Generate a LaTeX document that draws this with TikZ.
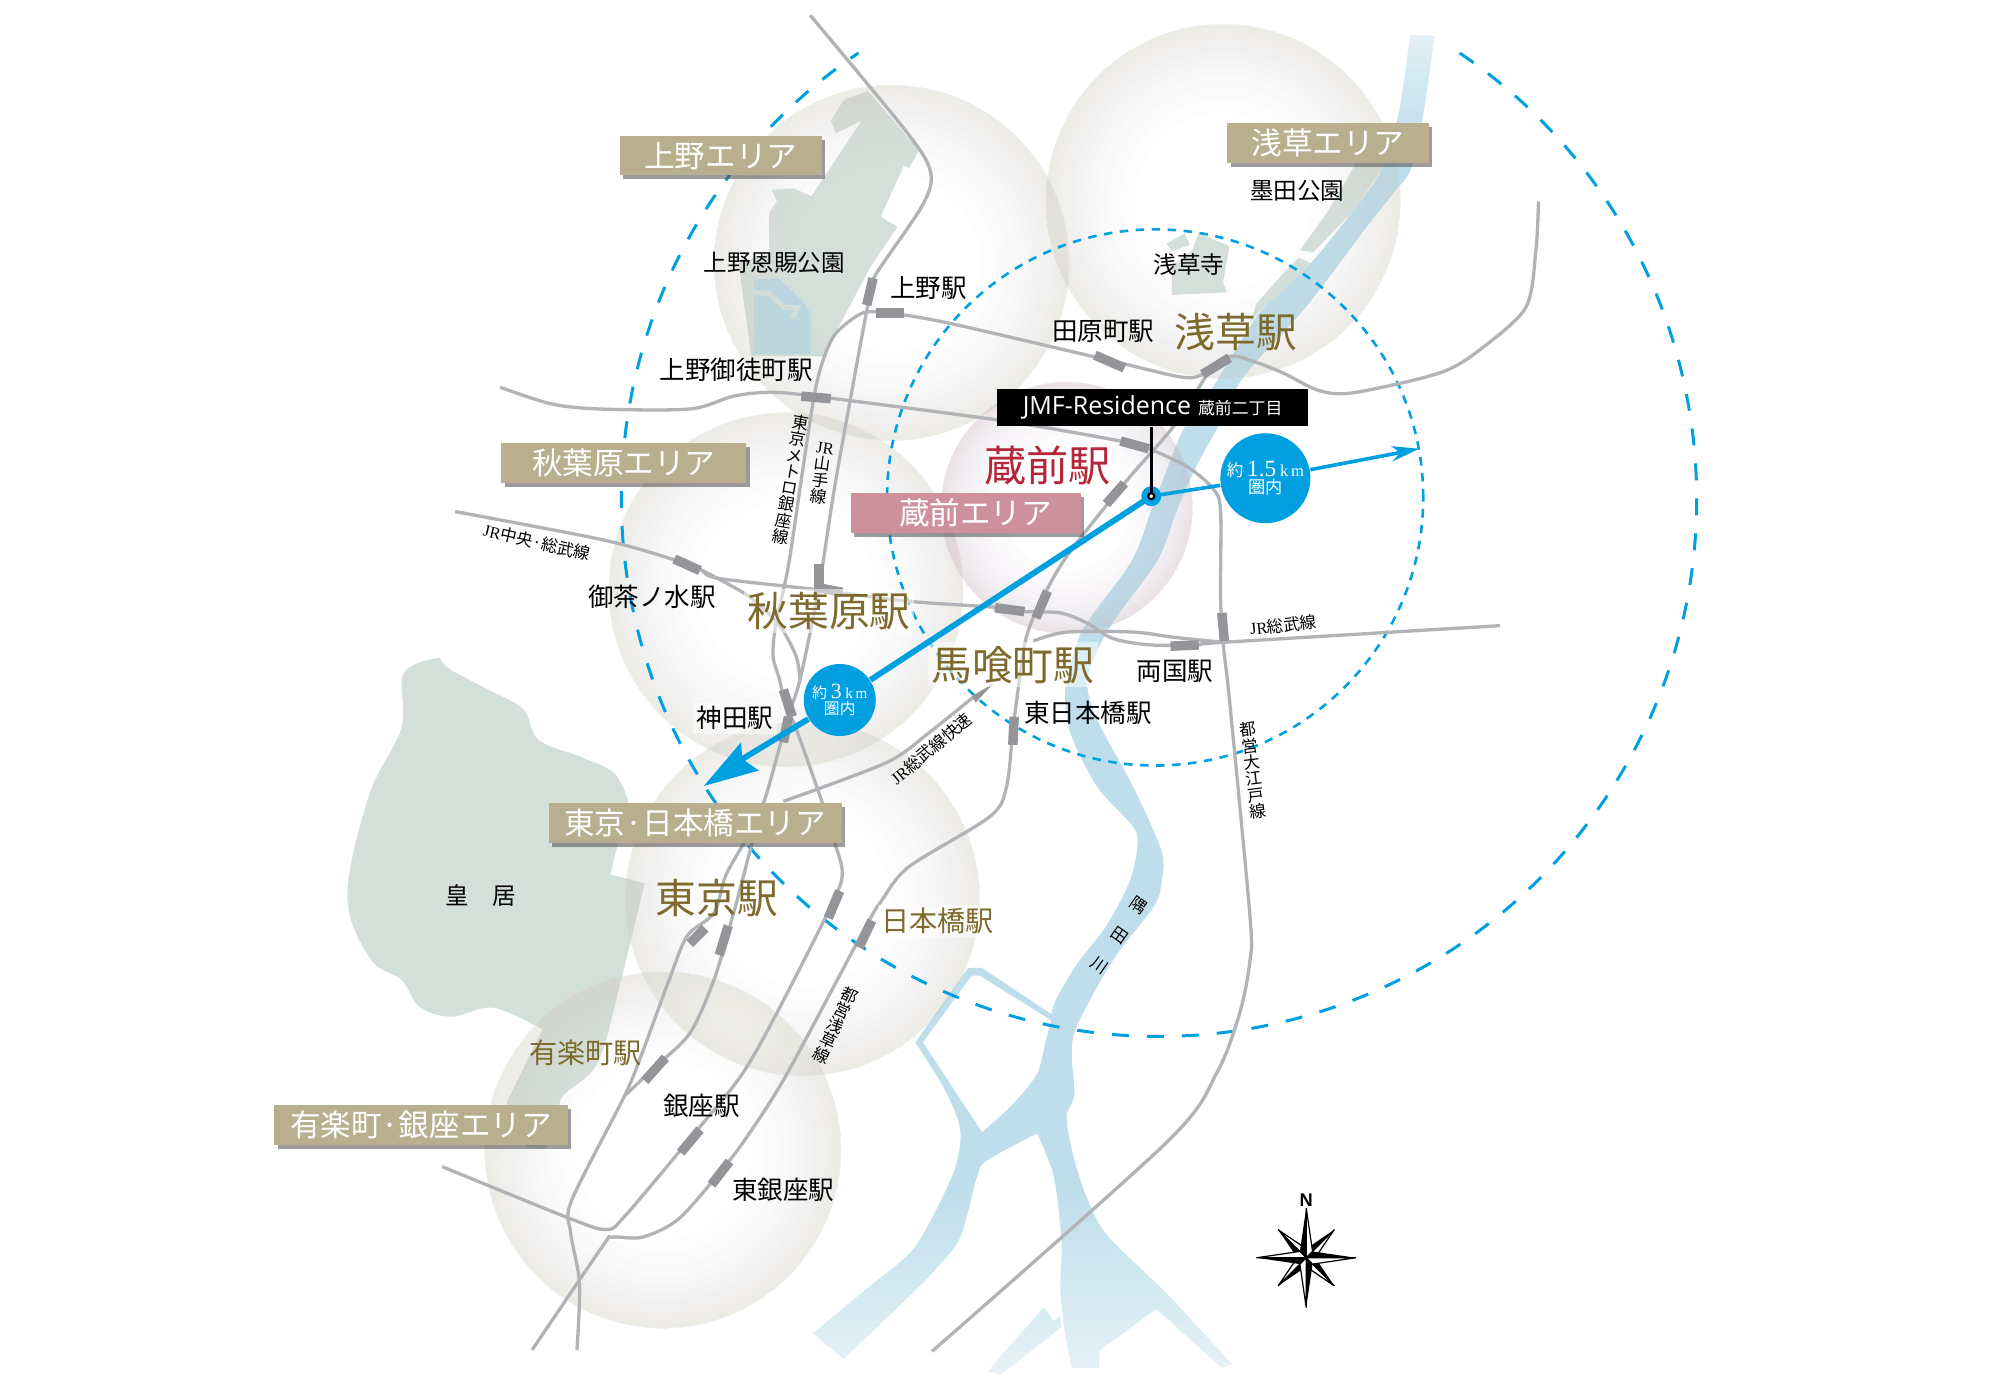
\documentclass[tikz,border=0pt]{standalone}
\usepackage{fontspec}
\setmainfont{Noto Sans CJK JP}
\newfontfamily\ser{Liberation Serif}
\newfontfamily\jmffont{Open Sans}
\newfontfamily\nfont{Liberation Sans}
\usetikzlibrary{fadings,shadows,calc}
\definecolor{parkC}{HTML}{D3E0DA}
\definecolor{riverC}{HTML}{BEDEEB}
\definecolor{pondC}{HTML}{B9D6E2}
\definecolor{railC}{HTML}{B1B3B6}
\definecolor{stnC}{HTML}{939598}
\definecolor{blueC}{HTML}{00A0E0}
\definecolor{tanC}{HTML}{B9AE8E}
\definecolor{pinkC}{HTML}{CD919C}
\definecolor{goldC}{HTML}{7D6A2C}
\definecolor{redC}{HTML}{B5263A}
\definecolor{bubC}{HTML}{D8D6CC}
\definecolor{bubP}{HTML}{D4BECB}
\tikzfading[name=fadeb, top color=transparent!100, bottom color=transparent!30]
\tikzfading[name=fadet, top color=transparent!25, bottom color=transparent!100]
\newcommand\bubring[4]{\foreach \ff in {0.50,0.58,0.65,0.71,0.76,0.80,0.84,0.87,0.90,0.92,0.94,0.96,0.98}{\fill[#4,opacity=.036,even odd rule] (#1,#2) circle[radius=#3cm] (#1,#2) circle[radius=\ff*#3cm];}}
\tikzset{
  fsz/.style={font=\fontsize{#1pt}{#1pt}\selectfont},
  park/.style={fill=parkC},
  rail/.style={draw=railC,line width=0.033cm,line join=round},
  stn/.style={draw=stnC,line width=0.095cm},
  dashB/.style={draw=blueC,line width=0.03cm,dash pattern=on 0.17cm off 0.18cm},
  dashS/.style={draw=blueC,line width=0.026cm,dash pattern=on 0.085cm off 0.075cm},
  tagbox/.style={fill=tanC,text=white,minimum height=0.395cm,inner sep=0pt,
    fsz=8.7,drop shadow={shadow xshift=0.035cm,shadow yshift=-0.04cm,fill=black!70,opacity=.55}},
  blab/.style={text=black,inner sep=0pt,fsz=#1},
  glab/.style={text=goldC,inner sep=1pt,fsz=#1},
  halo/.style={fill=white,fill opacity=.5,text opacity=1},
  vlab/.style={text=black,inner sep=0pt,align=center,fsz=4.7},
  bluecirc/.style={circle,fill=blueC,text=white,inner sep=0pt,align=center,fsz=5},
}
\begin{document}
\begin{tikzpicture}[x=0.01282cm,y=-0.01282cm]
\useasboundingbox (0,0) rectangle (1560,1085);
\fill[white] (0,0) rectangle (1560,1085);
% parks
\fill[park] plot[smooth,tension=.6] coordinates {(343,513)(351,522)(381,538)(408,553)(420,577)(452,590)(479,603)(490,625)} -- (476,682) -- (503,689) -- (475,803) -- plot[smooth,tension=.6] coordinates {(475,803)(463,834)(439,855)(436,870)} -- (425,896) -- (411,895) -- (395,860) -- (423,803) -- plot[smooth,tension=.6] coordinates {(423,803)(385,786)(352,793)(327,785)(313,764)(289,748)(271,699)(288,620)(313,568)(315,525)(343,513)} -- cycle;
\fill[park] (677,71) -- (658,78) -- (648,94) -- (652,104) -- (672,94) -- (633,153) -- (619,147) -- (602,148) -- (606,157) -- (600,166) -- (600,198) -- (576,205) -- (586,278) -- (642,278) -- (679,208) -- (700,177) -- (687,169) -- (705,129) -- (709,131) -- (717,117) -- (708,107) -- cycle;
\fill[pondC] (588,218) -- (607,217) -- (625,234) -- (632,244) -- (632,276) -- (588,276) -- cycle;
\draw[parkC,line width=0.05cm] (586,228) -- (600,229) -- (612,240) -- (622,240) -- (618,248);
\fill[park] (910,190) -- (924,182) -- (928,191) -- (914,196) -- cycle;
\fill[park] (935,182) -- (959,192) -- (954,220) -- (957,228) -- (914,230) -- (914,208) -- (930,195) -- cycle;
\fill[park] (1058,127) -- (1089,127) -- (1091,140) -- (1076,135) -- (1056,164) -- (1024,197) -- (1014,195) -- (1035,166) -- cycle;
\fill[park] (1013,201) -- (1022,205) -- (1001,226) -- (983,242) -- (975,252) -- (980,237) -- (1001,213) -- cycle;
% river
\fill[riverC] plot[smooth,tension=.5] coordinates {(1100,27)(1091,88)(1079,130)(1058,161)(1027,200)(1001,226)(980,247)(946,302)(924,333)(911,364)(898,398)(883,437)(851,481)(841,499)(831,536)(835,572)(856,614)(884,645)(887,661)(881,688)(863,722)(840,752)(824,779)(820,791)}
 -- (766,755) -- (755,755) -- (714,813)
 -- plot[smooth,tension=.5] coordinates {(714,813)(737,850)(749,881)(745,911)(728,948)(710,977)(675,1006)(634,1040)}
 -- (658,1060)
 -- plot[smooth,tension=.5] coordinates {(658,1060)(702,1018)(728,992)(749,965)(762,918)(770,905)(809,884)}
 -- plot[smooth,tension=.5] coordinates {(809,884)(822,918)(828,969)(827,1003)(830,1035)(836,1067)}
 -- (857,1067) -- (858,1053) -- (902,1021) -- (953,1067) -- (961,1064)
 -- plot[smooth,tension=.5] coordinates {(961,1064)(910,1009)(864,964)(848,935)(837,901)(832,871)(838,854)(836,823)(840,800)(868,749)(900,707)(906,688)(906,664)(884,614)(856,562)(848,533)(856,507)(871,481)(903,437)(918,398)(933,364)(950,333)(970,294)(1019,239)(1066,177)(1089,148)(1100,133)(1109,96)(1119,28)} -- cycle;
\fill[white] plot[smooth,tension=.5] coordinates {(820,796)(816,810)(809,837)(790,861)(766,883)} -- (720,813) -- (758,761) -- (764,761) -- cycle;
\fill[riverC] (770,1070) -- (781,1072) -- (828,1035) -- (827,1026) -- (822,1030) -- (814,1020) -- (790,1047) -- cycle;
\fill[white,path fading=fadeb] (620,925) rectangle (975,1090);
\fill[white,path fading=fadet] (1085,0) rectangle (1130,115);
% area bubbles
\bubring{695.5}{205}{1.775}{bubC}
\bubring{954}{157}{1.77}{bubC}
\bubring{613}{460}{1.77}{bubC}
\bubring{832}{396}{1.256}{bubP}
\bubring{626}{701}{1.77}{bubC}
\bubring{517}{897}{1.78}{bubC}
% radius circles
\coordinate (cen) at (904,389);
\draw[dashB] (cen) ++(56:5.375cm) arc[start angle=56,end angle=-236,radius=5.375cm];
\coordinate (cenS) at (901,388);
\draw[dashS] (cenS) circle[radius=2.68cm];
% rails
\draw[rail] plot[smooth,tension=.5] coordinates {(632,12)(708,104)(726,135)(719,161)(682,216)(677,237)(652,374)(639,457)(624,530)(614,561)(596,625)(581,656)(566,683)(557,712)(536,730)(522,764)(501,821)(487,855)(446,936)(445,961)(452,1001)(450,1053)};
\draw[rail] plot[smooth,tension=.5] coordinates {(587,656)(575,702)(570,720)(557,764)(538,806)(510,833)(487,855)};
\draw[rail] plot[smooth,tension=.5] coordinates {(694,244)(673,244)(652,260)(642,281)(635,309)(625,374)(615,441)(605,488)(603,512)(608,530)(614,556)(620,566)(641,625)(651,657)(657,681)(649,705)(606,790)(578,839)(540,886)(487,949)(473,959)(446,951)(345,910)};
\draw[rail] plot[smooth,tension=.5] coordinates {(355,399)(470,421)(524,436)(546,444)(560,451)(638,460)(709,469)(781,474)(799,477)(827,478)(848,486)(868,498)(897,503)(935,503)(954,501)(1170,488)};
\draw[rail] plot[smooth,tension=.5] coordinates {(546,444)(584,465)(608,488)(621,512)(624,530)};
\draw[rail] plot[smooth,tension=.5] coordinates {(611,625)(691,595)(724,572)(760,543)};
\draw[rail] plot[smooth,tension=.5] coordinates {(806,500)(832,493)(884,493)(915,497)(954,501)};
\draw[rail] plot[smooth,tension=.5] coordinates {(946,286)(939,296)(915,333)(877,377)(832,434)(811,471)(800,499)(793,546)(790,570)(785,614)(772,637)(709,676)(688,702)(674,725)(613,839)(581,889)(561,915)(529,951)(501,965)(477,965)(470,972)(415,1053)};
\draw[rail] plot[smooth,tension=.5] coordinates {(694,244)(740,252)(865,281)(921,294)(938,292)(959,278)(978,282)(1001,291)(1027,304)(1050,307)(1092,299)(1128,289)(1154,273)(1190,240)(1198,195)(1200,157)};
\draw[rail] plot[smooth,tension=.5] coordinates {(390,302)(430,315)(468,319)(538,319)(572,309)(600,306)(635,309)(781,328)(874,344)(896,350)(926,364)(946,381)(952,398)(952,465)(954,502)(959,546)(975,715)(975,749)(967,790)(949,837)(910,891)(727,1054)};
\fill[stnC] (758,543) -- (775,533) -- (761,548) -- cycle;
% stations
\draw[stn] (681,217) -- (676,238);
\draw[stn] (683,244) -- (705,244);
\draw[stn] (854,277) -- (877,287);
\draw[stn] (938,292) -- (959,279);
\draw[stn] (625,309) -- (648,311);
\draw[stn] (874,344) -- (896,350);
\draw[stn] (877,377) -- (863,393);
\draw[stn] (639,440) -- (639,462);
\draw[stn] (636,458) -- (657,462);
\draw[stn] (526,436) -- (546,445);
\draw[stn] (611,538) -- (618,559);
\draw[stn] (615,559) -- (611,579);
\draw[stn] (776,474) -- (799,477);
\draw[stn] (817,461) -- (808,482);
\draw[stn] (913,504) -- (935,503);
\draw[stn] (953,478) -- (955,500);
\draw[stn] (791,559) -- (790,581);
\draw[stn] (550,724) -- (538,736);
\draw[stn] (568,722) -- (561,745);
\draw[stn] (655,695) -- (646,716);
\draw[stn] (680,718) -- (670,739);
\draw[stn] (519,825) -- (503,843);
\draw[stn] (546,881) -- (531,899);
\draw[stn] (569,906) -- (555,924);
% labels placed from the overview
\begin{scope}[scale=0.995]
\node[tagbox,minimum width=2.015cm] (tUeno) at (565,122) {上野エリア};
\node[tagbox,minimum width=2.015cm] (tAsakusa) at (1041,112) {浅草エリア};
\node[tagbox,minimum width=2.45cm] (tAkiba) at (489,363) {秋葉原エリア};
\node[tagbox,fill=pinkC,minimum width=2.30cm] (tKura) at (757,402) {\hspace*{0.2cm}蔵前エリア};
\node[tagbox,minimum width=2.93cm] (tTokyo) at (545,645) {東京·日本橋エリア};
\node[tagbox,minimum width=2.93cm] (tYura) at (330,882) {有楽町·銀座エリア};
\node[blab=6.7] (sUenoPark) at (607,206) {上野恩賜公園};
\node[blab=7.26] (sUeno) at (728,226) {上野駅};
\node[blab=7.26] (sTawara) at (865,260) {田原町駅};
\node[blab=6.7] (sSenso) at (932,207) {浅草寺};
\node[blab=6.7] (sSumidaP) at (1017,150) {墨田公園};
\node[blab=7.26] (sOkachi) at (577,290) {上野御徒町駅};
\node[blab=7.26] (sOcha) at (511,468) {御茶ノ水駅};
\node[blab=7.26,halo,inner sep=1pt] (sKanda) at (576,563) {神田駅};
\node[blab=7.26] (sRyogoku) at (921,526) {両国駅};
\node[blab=7.26] (sHigashiNi) at (853,559) {東日本橋駅};
\node[blab=7.26] (sGinza) at (550,867) {銀座駅};
\node[blab=7.26] (sHigashiGi) at (614,933) {東銀座駅};
\node[blab=6.7] (sKokyo) at (377,702) {皇　居};
\node[glab=11.6] (gAsakusa) at (969,260) {浅草駅};
\node[glab=11.6,halo] (gAkiba) at (650,479) {秋葉原駅};
\node[glab=11.6,halo] (gBaku) at (794,521) {馬喰町駅};
\node[glab=11.6] (gTokyo) at (562,704) {東京駅};
\node[glab=8,halo] (gNihon) at (735,722) {日本橋駅};
\node[glab=8] (gYura) at (459,825) {有楽町駅};
\node[text=redC,inner sep=0pt,fsz=12] (rKura) at (821,365) {蔵前駅};
\node[vlab,rotate=-10] (lGinzaL) at (620,376) {東\\京\\メ\\ト\\ロ\\銀\\座\\線};
\node[vlab,rotate=-8] (lYama) at (644,371) {{\ser JR}\\山\\手\\線};
\node[vlab,rotate=-13] (lChuo) at (421,425) {{\ser JR}中央·総武線};
\node[vlab,rotate=6] (lSobu) at (1006,490) {{\ser JR}総武線};
\node[vlab,rotate=40] (lRapid) at (730,587) {{\ser JR}総武線快速};
\node[vlab,rotate=-25] (lAsaL) at (655,804) {都\\営\\浅\\草\\線};
\node[vlab,rotate=7] (lOedo) at (982,604) {都\\営\\大\\江\\戸\\線};
\node[text=black,inner sep=0pt,fsz=4.7,rotate=-35] (r1) at (893,710) {隅};
\node[text=black,inner sep=0pt,fsz=4.7,rotate=-35] (r2) at (878,733) {田};
\node[text=black,inner sep=0pt,fsz=4.7,rotate=-35] (r3) at (862,757) {川};
% compass
\coordinate (cmp) at (1024,986);
\node[inner sep=0pt,text=black,font=\nfont\bfseries\fontsize{5.2pt}{5.2pt}\selectfont] (cmpN) at (1024,941) {N};
\foreach \ang/\len in {45/0.40,135/0.40,225/0.40,315/0.40,90/0.50,0/0.50,270/0.50,180/0.50}{
  \fill[black] (cmp) -- ($(cmp)+(\ang:\len cm)$) -- ($(cmp)+(\ang+45:0.09cm)$) -- cycle;
  \filldraw[fill=white,draw=black,line width=0.012cm] (cmp) -- ($(cmp)+(\ang:\len cm)$) -- ($(cmp)+(\ang-45:0.09cm)$) -- cycle;
}
\end{scope}
% residence box and distance arrows
\node[fill=black,text=white,minimum width=3.11cm,minimum height=0.37cm,inner sep=0pt] (jmf) at (899,318) {{\jmffont\fontsize{7.1pt}{8pt}\selectfont JMF-Residence}\hspace{0.07cm}{\fontsize{4.8pt}{5pt}\selectfont 蔵前二丁目}};
\coordinate (mark) at (898,387);
\coordinate (tipR) at (1092,353);
\coordinate (tipL) at (579,592);
\node[bluecirc,minimum size=0.90cm] (c15) at (987,373) {{\fontsize{4.7pt}{5pt}\selectfont 約}{\ser\fontsize{6.6pt}{7pt}\selectfont\,1.5\,}{\ser\fontsize{4.7pt}{5pt}\selectfont k\,m}\\[-0.3pt]{\fontsize{4.9pt}{5pt}\selectfont 圏内}};
\node[bluecirc,minimum size=0.72cm] (c3) at (655,546) {{\fontsize{4.3pt}{5pt}\selectfont 約}{\ser\fontsize{6.2pt}{7pt}\selectfont\,3\,}{\ser\fontsize{4.3pt}{5pt}\selectfont k\,m}\\[-0.3pt]{\fontsize{4.5pt}{5pt}\selectfont 圏内}};
\draw[blueC,line width=0.036cm] (mark) -- (c15);
\draw[blueC,line width=0.036cm] (c15) -- (tipR);
\fill[blueC] (1107,350) -- (1085,348) -- (1092,353) -- (1086,360) -- cycle;
\draw[blueC,line width=0.058cm] (mark) -- (c3);
\draw[blueC,line width=0.058cm] (c3) -- (tipL);
\fill[blueC] (549,613) -- (578,579) -- (579,592) -- (592,601) -- cycle;
\fill[blueC] (mark) circle[radius=0.10cm];
\draw[black,line width=0.028cm] (jmf.south -| mark) -- (mark);
\filldraw[fill=white,draw=black,line width=0.022cm] (mark) circle[radius=0.03cm];
\end{tikzpicture}
\end{document}
